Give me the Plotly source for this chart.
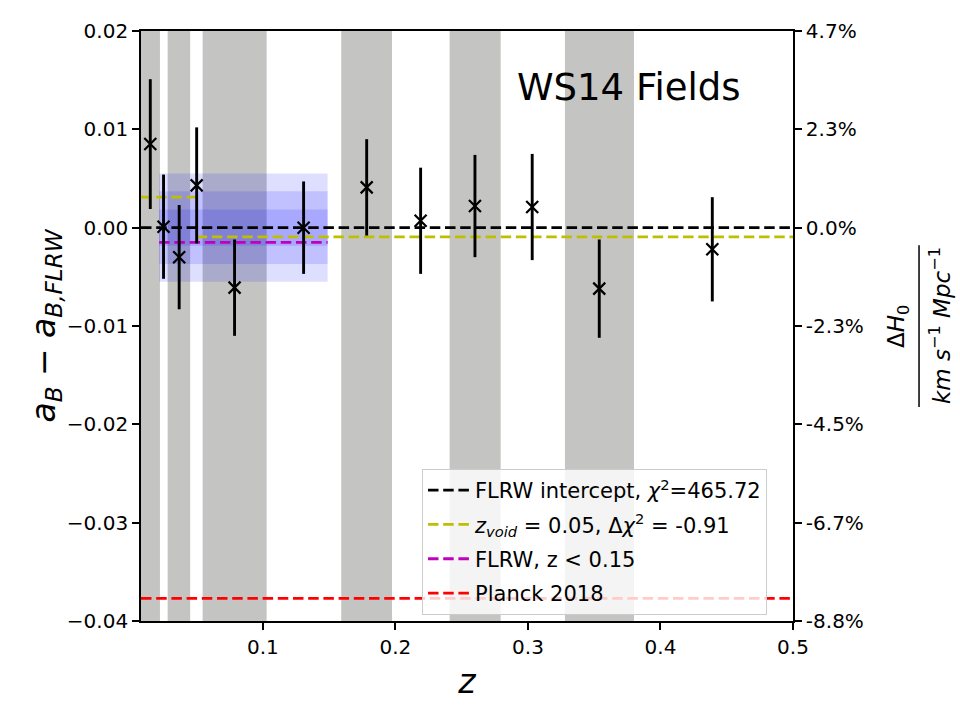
import plotly.graph_objects as go

# ---- data ----
z = [0.0150, 0.0250, 0.0368, 0.0500, 0.0786, 0.1307, 0.1783, 0.2190, 0.2600, 0.3032, 0.3538, 0.4391]
da = [0.0085, 0.0001, -0.0030, 0.0043, -0.0061, 0.0000, 0.0041, 0.0007, 0.0022, 0.0021, -0.0062, -0.0022]
err = [0.0066, 0.0053, 0.0053, 0.0059, 0.0049, 0.0047, 0.0049, 0.0054, 0.0052, 0.0054, 0.0050, 0.0053]

band_lo = [0.008, 0.0281, 0.0545, 0.1591, 0.2409, 0.3279]
band_hi = [0.0223, 0.0451, 0.1028, 0.1974, 0.2794, 0.3800]

x_range = [0.008, 0.5]
y_range = [-0.04, 0.02]

flrw_intercept = 0.0
void_z = 0.05
void_low = 0.0031     # z < z_void
void_high = -0.00094  # z > z_void
flrw_low_z = [0.0217, 0.1488]
flrw_low_val = -0.0015
flrw_low_sig = [0.00185, 0.0037, 0.0055]
flrw_low_center = 0.0
planck = -0.0377

y_ticks = [0.02, 0.01, 0.0, -0.01, -0.02, -0.03, -0.04]
y_ticktext = ["0.02", "0.01", "0.00", "\u22120.01", "\u22120.02", "\u22120.03", "\u22120.04"]
y2_ticktext = ["4.7%", "2.3%", "0.0%", "-2.3%", "-4.5%", "-6.7%", "-8.8%"]
x_ticks = [0.1, 0.2, 0.3, 0.4, 0.5]
x_ticktext = ["0.1", "0.2", "0.3", "0.4", "0.5"]

FONT = "DejaVu Sans"
DASH = "10.5px,4.7px"
LW = 2.8

fig = go.Figure()

# reference lines
fig.add_trace(go.Scatter(x=x_range, y=[flrw_intercept, flrw_intercept], mode="lines",
                         line=dict(color="black", width=LW, dash=DASH),
                         name="FLRW intercept, <i>\u03c7</i><sup>2</sup>=465.72", legendgroup="a"))
fig.add_trace(go.Scatter(x=[x_range[0], void_z], y=[void_low, void_low], mode="lines",
                         line=dict(color="#bfbf00", width=LW, dash=DASH),
                         name="<i>z<sub>void</sub></i> = 0.05, \u0394<i>\u03c7</i><sup>2</sup> = -0.91",
                         legendgroup="b"))
fig.add_trace(go.Scatter(x=[void_z, x_range[1]], y=[void_high, void_high], mode="lines",
                         line=dict(color="#bfbf00", width=LW, dash=DASH),
                         showlegend=False, legendgroup="b"))
fig.add_trace(go.Scatter(x=flrw_low_z, y=[flrw_low_val, flrw_low_val], mode="lines",
                         line=dict(color="#bf00bf", width=LW, dash=DASH),
                         name="FLRW, z < 0.15", legendgroup="c"))
fig.add_trace(go.Scatter(x=x_range, y=[planck, planck], mode="lines",
                         line=dict(color="red", width=LW, dash=DASH),
                         name="Planck 2018", legendgroup="d"))

# data points
fig.add_trace(go.Scatter(x=z, y=da, mode="markers",
                         marker=dict(symbol="x-thin", size=12, color="black",
                                     line=dict(color="black", width=2.2)),
                         error_y=dict(type="data", array=err, visible=True, color="black",
                                      thickness=2.9, width=0),
                         showlegend=False))

# invisible trace for secondary axis
fig.add_trace(go.Scatter(x=z, y=da, mode="markers", marker=dict(opacity=0),
                         yaxis="y2", showlegend=False, hoverinfo="skip"))

shapes = []
for lo, hi in zip(band_lo, band_hi):
    shapes.append(dict(type="rect", xref="x", yref="paper", x0=lo, x1=hi, y0=0, y1=1,
                       fillcolor="#c4c5c3", line=dict(width=0), layer="below"))
for s in flrw_low_sig:
    shapes.append(dict(type="rect", xref="x", yref="y", x0=flrw_low_z[0], x1=flrw_low_z[1],
                       y0=flrw_low_center - s, y1=flrw_low_center + s,
                       fillcolor="rgba(0,0,255,0.13)", line=dict(width=0), layer="below"))
# fraction bar of right label
shapes.append(dict(type="line", xref="paper", yref="paper", x0=1.1933, x1=1.1933,
                   y0=0.3627, y1=0.637, line=dict(color="black", width=1.5)))

annotations = [
    dict(text="WS14 Fields", xref="paper", yref="paper", x=0.748, y=0.905,
         showarrow=False, font=dict(size=37, color="black", family=FONT),
         xanchor="center", yanchor="middle"),
    dict(text="\u0394<i>H</i><sub>0</sub>", xref="paper", yref="paper", x=1.1610, y=0.5,
         showarrow=False, textangle=-90, font=dict(size=23, color="black", family=FONT),
         xanchor="center", yanchor="middle"),
    dict(text="<i>km s</i><sup>\u22121</sup> <i>Mpc</i><sup>\u22121</sup>", xref="paper", yref="paper",
         x=1.2255, y=0.5, showarrow=False, textangle=-90,
         font=dict(size=23, color="black", family=FONT),
         xanchor="center", yanchor="middle"),
]

fig.update_layout(
    width=960, height=720,
    margin=dict(l=141, r=167, t=31, b=99),
    plot_bgcolor="white", paper_bgcolor="white",
    font=dict(family=FONT, size=20, color="black"),
    shapes=shapes, annotations=annotations,
    showlegend=True,
    legend=dict(x=0.431, y=0.2576, xanchor="left", yanchor="top",
                bgcolor="rgba(255,255,255,0.8)", bordercolor="#cccccc", borderwidth=1,
                font=dict(size=21, family=FONT), tracegroupgap=4, itemwidth=42),
    xaxis=dict(range=x_range, tickvals=x_ticks, ticktext=x_ticktext,
               showgrid=False, zeroline=False, showline=True, linecolor="black", linewidth=1.7,
               mirror=True, ticks="outside", ticklen=7, tickwidth=1.7, tickcolor="black",
               tickfont=dict(size=20),
               title=dict(text="<i>z</i>", font=dict(size=33), standoff=12)),
    yaxis=dict(range=y_range, tickvals=y_ticks, ticktext=y_ticktext,
               showgrid=False, zeroline=False, showline=True, linecolor="black", linewidth=1.7,
               ticks="outside", ticklen=7, tickwidth=1.7, tickcolor="black",
               tickfont=dict(size=20),
               title=dict(text="<i>a</i><sub><i>B</i></sub> \u2212 <i>a</i><sub><i>B,FLRW</i></sub>",
                          font=dict(size=33), standoff=1)),
    yaxis2=dict(range=y_range, tickvals=y_ticks, ticktext=y2_ticktext, overlaying="y", side="right",
                showgrid=False, zeroline=False, showline=True, linecolor="black", linewidth=1.7,
                ticks="outside", ticklen=7, tickwidth=1.7, tickcolor="black",
                tickfont=dict(size=20)),
)

fig.write_html("out.html")
